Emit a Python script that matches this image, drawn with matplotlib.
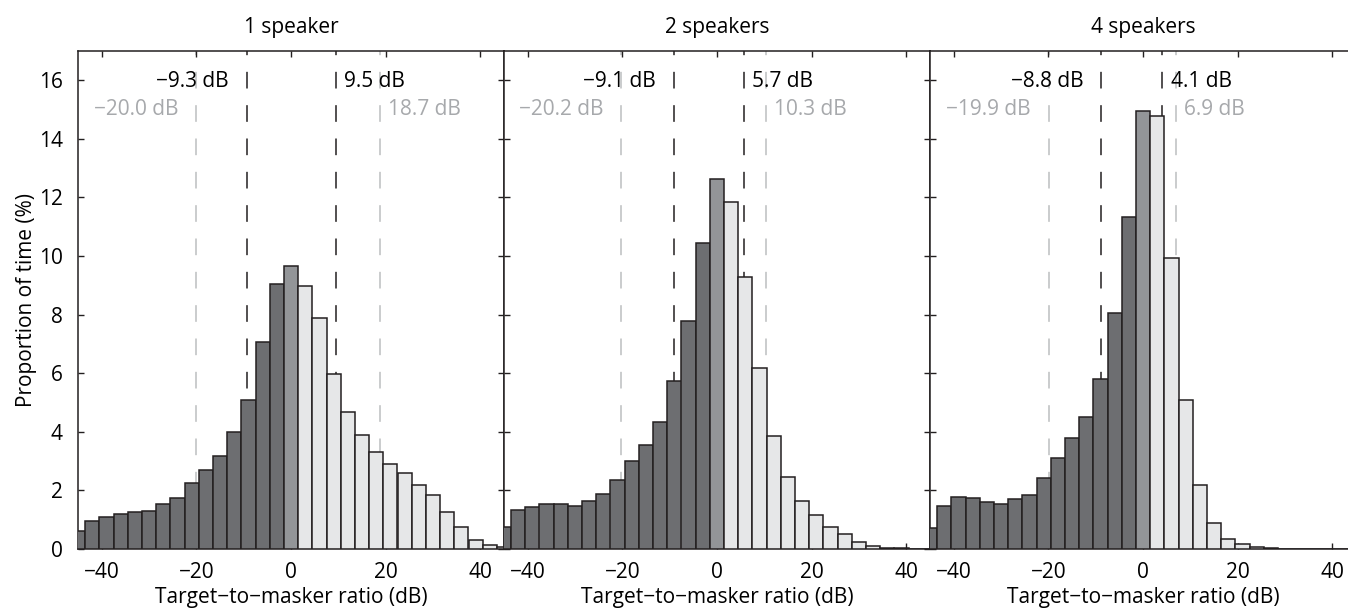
import matplotlib
matplotlib.use('Agg')
import matplotlib.pyplot as plt
import numpy as np

# bin centres (dB), 3 dB bins
centres = np.arange(-45, 46, 3)

# proportion of time (%) per bin, one list per panel
one_spk = [0.63, 0.97, 1.10, 1.20, 1.25, 1.30, 1.52, 1.75, 2.26, 2.70, 3.16,
           3.98, 5.10, 7.08, 9.05, 9.67, 8.98, 7.88, 5.97, 4.69, 3.89, 3.30,
           2.90, 2.58, 2.20, 1.85, 1.28, 0.75, 0.32, 0.13, 0.06]
two_spk = [0.76, 1.34, 1.45, 1.54, 1.53, 1.48, 1.65, 1.89, 2.34, 2.99, 3.56,
           4.35, 5.73, 7.80, 10.46, 12.63, 11.86, 9.29, 6.17, 3.85, 2.45, 1.64,
           1.15, 0.76, 0.51, 0.24, 0.10, 0.05, 0.02, 0.01, 0.01]
four_spk = [0.73, 1.47, 1.77, 1.74, 1.62, 1.52, 1.72, 1.85, 2.42, 3.10, 3.79,
            4.52, 5.81, 8.05, 11.35, 14.96, 14.77, 9.93, 5.08, 2.20, 0.88, 0.35,
            0.16, 0.06, 0.03, 0.01, 0.01, 0.005, 0.005, 0.005, 0.005]

titles = ['1 speaker', '2 speakers', '4 speakers']
series = [one_spk, two_spk, four_spk]
# inner (black) and outer (gray) percentile markers, dB
inner = [(-9.3, 9.5), (-9.1, 5.7), (-8.8, 4.1)]
outer = [(-20.0, 18.7), (-20.2, 10.3), (-19.9, 6.9)]

dark, mid, light = '#6d6e71', '#939598', '#e6e7e8'
edge = '#231f20'
gray_line = '#bcbec0'
gray_txt = '#a7a9ac'

plt.rcParams['font.family'] = ['Open Sans', 'DejaVu Sans']
plt.rcParams['font.size'] = 15
plt.rcParams['lines.scale_dashes'] = False

fig = plt.figure(figsize=(13.48, 6.1), dpi=100)

W = 426 / 1348
for i in range(3):
    ax = fig.add_axes([78 / 1348 + i * W, 0.1, W, 498 / 610])
    vals = series[i]
    cols = [dark if c < 0 else (mid if c == 0 else light) for c in centres]
    ax.bar(centres, vals, width=3, color=cols, edgecolor=edge, linewidth=1.1, zorder=3)

    dash = (9, (12, 12))
    for x in inner[i]:
        ax.plot([x, x], [17, 0], color=edge, lw=1.1, linestyle=dash, zorder=1)
    for x in outer[i]:
        ax.plot([x, x], [17, 0], color=gray_line, lw=1.1, linestyle=dash, zorder=1)

    lo, hi = inner[i]
    ax.annotate(f'\u2212{abs(lo):.1f} dB', (lo, 15.95), xytext=(-13, 0),
                textcoords='offset points', ha='right', va='center', color='#000000')
    ax.annotate(f'{hi:.1f} dB', (hi, 15.95), xytext=(6, 0),
                textcoords='offset points', ha='left', va='center', color='#000000')
    lo, hi = outer[i]
    ax.annotate(f'\u2212{abs(lo):.1f} dB', (lo, 15.0), xytext=(-13, 0),
                textcoords='offset points', ha='right', va='center', color=gray_txt)
    ax.annotate(f'{hi:.1f} dB', (hi, 15.0), xytext=(6, 0),
                textcoords='offset points', ha='left', va='center', color=gray_txt)

    ax.set_xlim(-45, 45)
    ax.set_ylim(0, 17)
    ax.set_xticks([-40, -20, 0, 20, 40])
    ax.set_yticks(range(0, 17, 2))
    ax.tick_params(direction='in', length=4, width=1.0, color=edge,
                   top=True, right=True, labelsize=15)
    ax.tick_params(axis='x', pad=9)
    ax.tick_params(axis='y', pad=11)
    for s in ax.spines.values():
        s.set_linewidth(1.1)
        s.set_color(edge)
    if i > 0:
        ax.set_yticklabels([])
    else:
        ax.set_ylabel('Proportion of time (%)', fontsize=15, labelpad=1)
    ax.set_xlabel('Target\u2212to\u2212masker ratio (dB)', fontsize=15, labelpad=3)
    ax.set_title(titles[i], fontsize=15, pad=13)

fig.savefig('out.png', dpi=100)
